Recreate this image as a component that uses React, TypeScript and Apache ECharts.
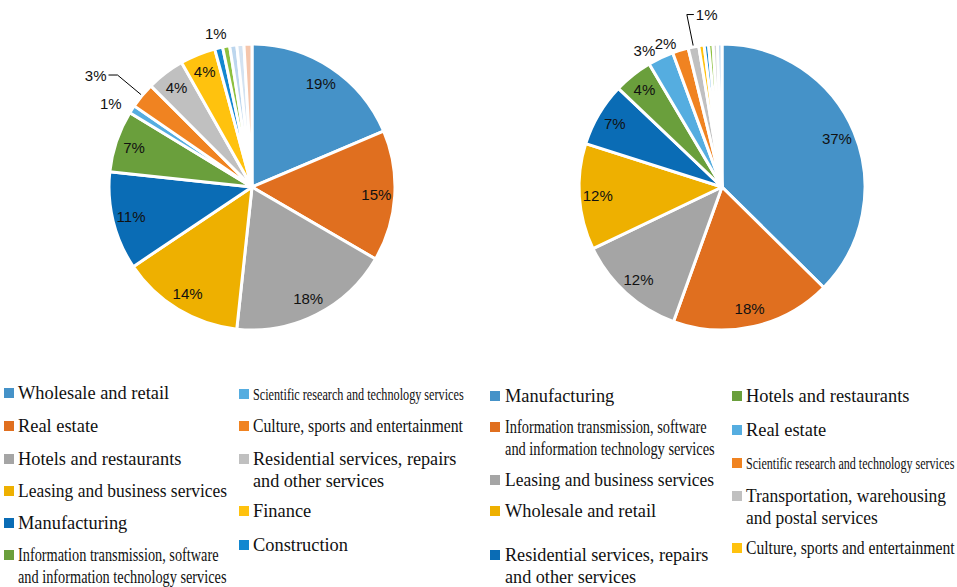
import React, { useEffect, useRef } from "react";
import * as echarts from "echarts";

// ---------- DATA ----------
const leftNames = [
  "Wholesale and retail",
  "Real estate",
  "Hotels and restaurants",
  "Leasing and business services",
  "Manufacturing",
  "Information transmission, software and information technology services",
  "Scientific research and technology services",
  "Culture, sports and entertainment",
  "Residential services, repairs and other services",
  "Finance",
  "Construction",
  "Other A",
  "Other B",
  "Other C",
  "Other D",
];
const leftValues = [18.6, 14.8, 18.3, 13.9, 11.1, 7.0, 0.9, 2.9, 4.3, 4.0, 0.9, 0.8, 0.8, 0.8, 0.9];

const rightNames = [
  "Manufacturing",
  "Information transmission, software and information technology services",
  "Leasing and business services",
  "Wholesale and retail",
  "Residential services, repairs and other services",
  "Hotels and restaurants",
  "Real estate",
  "Scientific research and technology services",
  "Transportation, warehousing and postal services",
  "Culture, sports and entertainment",
  "Other A",
  "Other B",
  "Other C",
  "Other D",
];
const rightValues = [37.4, 18.1, 12.4, 12.0, 7.2, 4.4, 2.9, 1.8, 1.2, 0.6, 0.5, 0.5, 0.5, 0.5];

const leftLegendText = [
  "Wholesale and retail",
  "Real estate",
  "Hotels and restaurants",
  "Leasing and business services",
  "Manufacturing",
  "Information transmission, software\nand information technology services",
  "Scientific research and technology services",
  "Culture, sports and entertainment",
  "Residential services, repairs\nand other services",
  "Finance",
  "Construction",
];
const rightLegendText = [
  "Manufacturing",
  "Information transmission, software\nand information technology services",
  "Leasing and business services",
  "Wholesale and retail",
  "Residential services, repairs\nand other services",
  "Hotels and restaurants",
  "Real estate",
  "Scientific research and technology services",
  "Transportation, warehousing\nand postal services",
  "Culture, sports and entertainment",
];

// ---------- STYLE ----------
const leftColors = [
  "#4592c8", "#e06f1f", "#a5a5a5", "#eeb000", "#0a6cb5", "#6a9f3c", "#55ade0",
  "#f08321", "#c0c0c0", "#ffc20e", "#1287d0", "#8dc03f", "#bcd6ee", "#d3e2f1", "#f5c6ac",
];
const rightColors = [
  "#4592c8", "#e06f1f", "#a5a5a5", "#eeb000", "#0a6cb5", "#6a9f3c", "#55ade0",
  "#f08321", "#c0c0c0", "#ffc20e", "#1287d0", "#8dc03f", "#d6d6d6", "#bcd6ee",
];
const leftLabelMode = ["in", "in", "in", "in", "in", "in", "out", "out", "in", "in", "out", "none", "none", "none", "none"];
const rightLabelMode = ["in", "in", "in", "in", "in", "in", "out", "out", "out", "none", "none", "none", "none", "none"];
const leftLineCfg: Record<number, any> = {
  6: { show: false, length: 10, length2: 0 },
  7: { show: true, length: 32, length2: 9 },
  10: { show: false, length: 12, length2: 0 },
};
const rightLineCfg: Record<number, any> = {
  6: { show: false, length: 8, length2: 0 },
  7: { show: false, length: 7, length2: 0 },
  8: { show: true, length: 33, length2: 7 },
};
// label placement tweaks: "flip" = leader line turns right, "center" = text centered at the line end
const leftLabelTweak: Record<number, string> = { 10: "center" };
const rightLabelTweak: Record<number, string> = { 8: "flip" };

// legend layout: marker x, text x, center y of first line, font size, horizontal scale
const leftLegendLayout = [
  { mx: 4, tx: 18, y: 393, fs: 18.4, sx: 1 },
  { mx: 4, tx: 18, y: 426, fs: 18.4, sx: 1 },
  { mx: 4, tx: 18, y: 459, fs: 18.4, sx: 1 },
  { mx: 4, tx: 18, y: 491, fs: 18.4, sx: 0.95 },
  { mx: 4, tx: 18, y: 523, fs: 18.4, sx: 1 },
  { mx: 4, tx: 18, y: 555, fs: 18, sx: 0.795 },
  { mx: 239, tx: 253, y: 394, fs: 16, sx: 0.763 },
  { mx: 239, tx: 253, y: 426, fs: 18, sx: 0.875 },
  { mx: 239, tx: 253, y: 459, fs: 18, sx: 1.01 },
  { mx: 239, tx: 253, y: 511, fs: 18.4, sx: 1 },
  { mx: 239, tx: 253, y: 545, fs: 18.4, sx: 1 },
];
const rightLegendLayout = [
  { mx: 490, tx: 505, y: 396, fs: 18.4, sx: 1 },
  { mx: 490, tx: 505, y: 427, fs: 18, sx: 0.8 },
  { mx: 490, tx: 505, y: 480, fs: 18.4, sx: 0.95 },
  { mx: 490, tx: 505, y: 511, fs: 18.4, sx: 1 },
  { mx: 490, tx: 505, y: 555, fs: 18, sx: 1.01 },
  { mx: 732, tx: 746, y: 396, fs: 18.4, sx: 1 },
  { mx: 732, tx: 746, y: 430, fs: 18.4, sx: 1 },
  { mx: 732, tx: 746, y: 463, fs: 16, sx: 0.755 },
  { mx: 732, tx: 746, y: 496, fs: 18, sx: 0.97 },
  { mx: 732, tx: 746, y: 548, fs: 18, sx: 0.87 },
];

const PIE_R = 143;
const labelFont = { fontFamily: "Liberation Sans, Arial, sans-serif", fontSize: 15, color: "#111" };

function pieSeries(names: string[], values: number[], colors: string[], center: number[]) {
  return {
    type: "pie",
    center,
    radius: [0, PIE_R],
    startAngle: 90,
    clockwise: true,
    silent: true,
    label: { show: false },
    labelLine: { show: false },
    itemStyle: { borderColor: "#ffffff", borderWidth: 3 },
    data: values.map((v, i) => ({ value: v, name: names[i], itemStyle: { color: colors[i] } })),
  };
}

function labelSeries(
  names: string[],
  values: number[],
  modes: string[],
  lineCfg: Record<number, any>,
  center: number[],
  tweak: Record<number, string>
) {
  return {
    type: "pie",
    center,
    radius: [PIE_R * 0.7, PIE_R],
    startAngle: 90,
    clockwise: true,
    silent: true,
    avoidLabelOverlap: false,
    itemStyle: { color: "rgba(0,0,0,0)", borderWidth: 0 },
    labelLine: { lineStyle: { color: "#000", width: 1 } },
    labelLayout: (p: any) => {
      const t = tweak[p.dataIndex];
      if (!t || !p.labelLinePoints) return {};
      const pts = p.labelLinePoints;
      const a = pts[0];
      const b = pts[1];
      if (t === "center") {
        return { x: b[0], y: b[1] - 3, align: "center", verticalAlign: "middle" };
      }
      const seg = Math.abs(pts[2][0] - b[0]);
      const c = [b[0] + seg, b[1]];
      return {
        x: c[0] + 2,
        y: c[1],
        align: "left",
        verticalAlign: "middle",
        labelLinePoints: [a, b, c],
      };
    },
    data: values.map((v, i) => {
      const m = modes[i];
      const item: any = { value: v, name: names[i] };
      if (m === "none") {
        item.label = { show: false };
        item.labelLine = { show: false };
      } else if (m === "in") {
        item.label = { show: true, position: "inside", ...labelFont, formatter: (p: any) => Math.round(p.percent) + "%" };
        item.labelLine = { show: false };
      } else {
        item.label = {
          show: true,
          position: "outside",
          ...labelFont,
          distanceToLabelLine: 2,
          formatter: (p: any) => Math.round(p.percent) + "%",
        };
        item.labelLine = { lineStyle: { color: "#000", width: 1 }, ...(lineCfg[i] || {}) };
      }
      return item;
    }),
  };
}

function legendGraphics(texts: string[], layout: any[], colors: string[]) {
  const els: any[] = [];
  texts.forEach((t, i) => {
    const l = layout[i];
    els.push({
      type: "rect",
      shape: { x: l.mx, y: l.y - 5, width: 10, height: 10 },
      style: { fill: colors[i] },
      silent: true,
    });
    els.push({
      type: "text",
      x: l.tx,
      y: l.y - 11,
      scaleX: l.sx,
      silent: true,
      style: {
        text: t,
        fontFamily: "Liberation Serif, Times New Roman, serif",
        fontSize: l.fs,
        lineHeight: 22,
        fill: "#111",
        align: "left",
        verticalAlign: "top",
      },
    });
  });
  return els;
}

export default function App() {
  const ref = useRef<HTMLDivElement>(null);
  useEffect(() => {
    if (!ref.current) return;
    const chart = echarts.init(ref.current, null, { renderer: "svg" });
    const leftCenter = [252, 187];
    const rightCenter = [722, 187];
    chart.setOption({
      animation: false,
      backgroundColor: "#ffffff",
      series: [
        pieSeries(leftNames, leftValues, leftColors, leftCenter),
        labelSeries(leftNames, leftValues, leftLabelMode, leftLineCfg, leftCenter, leftLabelTweak),
        pieSeries(rightNames, rightValues, rightColors, rightCenter),
        labelSeries(rightNames, rightValues, rightLabelMode, rightLineCfg, rightCenter, rightLabelTweak),
      ],
      graphic: [
        ...legendGraphics(leftLegendText, leftLegendLayout, leftColors),
        ...legendGraphics(rightLegendText, rightLegendLayout, rightColors),
      ],
    });
    return () => chart.dispose();
  }, []);
  return (
    <div
      ref={ref}
      style={{ position: "absolute", left: 0, top: 0, width: 957, height: 587 }}
    />
  );
}
